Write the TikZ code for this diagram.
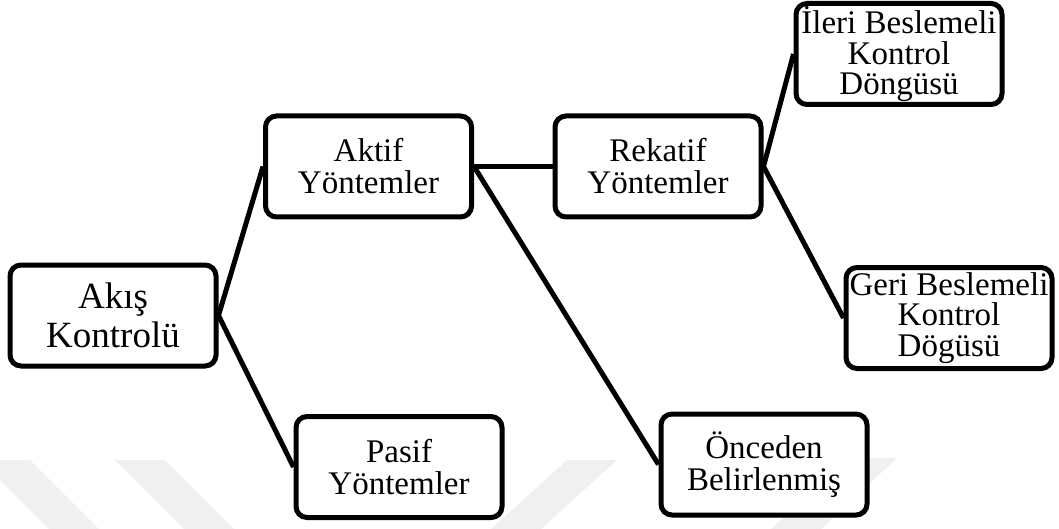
\documentclass[tikz,border=0pt]{standalone}
\usepackage{fontspec}
\setmainfont{Liberation Serif}
\usetikzlibrary{shadows}
\begin{document}
\begin{tikzpicture}[x=1pt,y=-1pt,
  box/.style={draw=black, line width=5pt, rounded corners=11pt, fill=white,
    minimum width=206pt, minimum height=101pt, align=center, inner sep=0pt,
    drop shadow={shadow xshift=2pt, shadow yshift=-2pt, fill=black, opacity=0.3}},
  txt/.style={font=\fontsize{33}{32}\selectfont},
  txtthree/.style={font=\fontsize{33}{30.5}\selectfont},
  big/.style={font=\fontsize{37}{39}\selectfont},
  link/.style={line width=5pt},
  wm/.style={fill=black!6, draw=none}]
\useasboundingbox (0,0) rectangle (1059,529);
% faint watermark bands
\fill[wm] (0,460) -- (30,460) -- (99,529) -- (49,529) -- (0,480) -- cycle;
\fill[wm] (115,460) -- (165,460) -- (234,529) -- (184,529) -- cycle;
\fill[wm] (567,460) -- (617,460) -- (541,529) -- (491,529) -- cycle;
\fill[wm] (847,458) -- (897,458) -- (821,529) -- (771,529) -- cycle;
% nodes
\node[box, big] (akis) at (113,315.5) {Akış\\Kontrolü};
\node[box, txt] (aktif) at (368.5,166.5) {Aktif\\Yöntemler};
\node[box, txt] (rekatif) at (658,166.5) {Rekatif\\Yöntemler};
\node[box, txtthree] (ileri) at (899,54) {İleri Beslemeli\\Kontrol\\Döngüsü};
\node[box, txtthree] (geri) at (949,318) {Geri Beslemeli\\Kontrol\\Dögüsü};
\node[box, txt] (pasif) at (399,467) {Pasif\\Yöntemler};
\node[box, txt] (onceden) at (764,464.5) {Önceden\\Belirlenmiş};
% connectors
\draw[link] (akis.east) -- (aktif.west);
\draw[link] (akis.east) -- (pasif.west);
\draw[link] (aktif.east) -- (rekatif.west);
\draw[link] (aktif.east) -- (onceden.west);
\draw[link] (rekatif.east) -- (ileri.west);
\draw[link] (rekatif.east) -- (geri.west);
\end{tikzpicture}
\end{document}
